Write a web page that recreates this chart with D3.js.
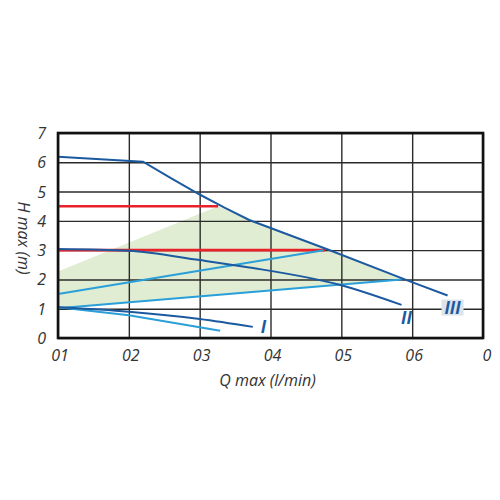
<!DOCTYPE html>
<html>
<head>
<meta charset="utf-8">
<script src="https://cdn.jsdelivr.net/npm/d3@7"></script>
<style>
  html, body { margin: 0; padding: 0; background: #fff; }
  text { font-family: 'Open Sans', sans-serif; font-style: italic; }
</style>
</head>
<body>
<div id="chart"></div>
<script>
// Pump curves: H max (m) against Q max (l/min)

const xTicks = [1, 2, 3, 4, 5, 6, 7];
const xTickLabels = ['01', '02', '03', '04', '05', '06', '0'];
const yTicks = [0, 1, 2, 3, 4, 5, 6, 7];

// speed curves (dark blue)
const curveI   = [[1, 1.05], [2, 0.9], [3, 0.65], [3.75, 0.38]];
const curveII  = [[1, 3.04], [2, 2.98], [3, 2.66], [3.7, 2.41], [5, 1.8], [5.85, 1.13]];
const curveIII = [[1, 6.19], [2.2, 6.02], [2.6, 5.45], [3, 4.9], [3.35, 4.45], [3.7, 4.03],
                  [4.8, 3.03], [5.95, 1.95], [6.5, 1.45]];

// system curves (light blue)
const lightA = [[1, 1.05], [2, 0.78], [3.29, 0.25]];
const lightB = [[1, 1.5], [4.75, 3.0]];
const lightC = [[1, 1.02], [5.85, 2.0]];

// red limit lines
const redLines = [[[1, 4.5], [3.26, 4.5]], [[1, 3.0], [4.77, 3.0]]];

// shaded working area
const area = [[1, 2.27], [3.26, 4.5], [3.7, 4.03], [4.8, 3.03], [5.9, 2.0], [1, 1.02]];

const labels = [
  { text: 'I', x: 3.9, y: 0.38 },
  { text: 'II', x: 5.92, y: 0.7 },
  { text: 'III', x: 6.57, y: 1.04, box: true }
];

const W = 500, H = 500;
const margin = { top: 133, right: 17, bottom: 162, left: 58 };
const w = W - margin.left - margin.right;
const h = H - margin.top - margin.bottom;

const svg = d3.select('#chart').append('svg')
  .attr('width', W).attr('height', H);

const g = svg.append('g')
  .attr('transform', `translate(${margin.left},${margin.top})`);

const x = d3.scaleLinear().domain([1, 7]).range([0, w]);
const y = d3.scaleLinear().domain([0, 7]).range([h, 0]);

const line = d3.line().x(d => x(d[0])).y(d => y(d[1]));
const smooth = d3.line().x(d => x(d[0])).y(d => y(d[1])).curve(d3.curveMonotoneX);

// green area
g.append('path')
  .attr('d', line(area) + 'Z')
  .attr('fill', '#e0edd2');

// grid
g.append('g')
  .call(d3.axisLeft(y).tickValues(yTicks).tickSize(-w).tickFormat(''))
  .call(a => a.select('.domain').remove())
  .call(a => a.selectAll('line').attr('stroke', '#2b2b2b').attr('stroke-width', 1.4));

g.append('g')
  .attr('transform', `translate(0,${h})`)
  .call(d3.axisBottom(x).tickValues(xTicks).tickSize(-h).tickFormat(''))
  .call(a => a.select('.domain').remove())
  .call(a => a.selectAll('line').attr('stroke', '#2b2b2b').attr('stroke-width', 1.4));

// red lines
redLines.forEach(r => {
  g.append('path').attr('d', line(r))
    .attr('fill', 'none').attr('stroke', '#e8212b').attr('stroke-width', 2.6);
});

// light blue lines
[lightA, lightB, lightC].forEach(c => {
  g.append('path').attr('d', line(c))
    .attr('fill', 'none').attr('stroke', '#2a9fd8').attr('stroke-width', 2);
});

// dark blue curves
g.append('path').attr('d', smooth(curveI))
  .attr('fill', 'none').attr('stroke', '#1c5aa0').attr('stroke-width', 2);
g.append('path').attr('d', smooth(curveII))
  .attr('fill', 'none').attr('stroke', '#1c5aa0').attr('stroke-width', 2);
g.append('path').attr('d', line(curveIII))
  .attr('fill', 'none').attr('stroke', '#1c5aa0').attr('stroke-width', 2);

// frame
g.append('rect')
  .attr('width', w).attr('height', h)
  .attr('fill', 'none').attr('stroke', '#111').attr('stroke-width', 2.6);

// curve labels
labels.forEach(l => {
  if (l.box) {
    g.append('rect')
      .attr('x', x(l.x) - 11).attr('y', y(l.y) - 8)
      .attr('width', 22).attr('height', 16)
      .attr('fill', '#dde3ea');
  }
  g.append('text')
    .attr('x', x(l.x)).attr('y', y(l.y) + 6)
    .attr('text-anchor', 'middle')
    .style('font-size', '17px').style('font-weight', '700')
    .style('fill', '#1c5aa0')
    .text(l.text);
});

// tick labels
g.selectAll('.ylab').data(yTicks).join('text')
  .attr('x', -12).attr('y', d => y(d) + 6)
  .attr('text-anchor', 'end')
  .style('font-size', '16px').style('fill', '#333')
  .text(d => d);

g.selectAll('.xlab').data(xTicks).join('text')
  .attr('x', (d, i) => x(d) + (i === xTicks.length - 1 ? 4 : 2))
  .attr('y', h + 23)
  .attr('text-anchor', 'middle')
  .style('font-size', '16px').style('fill', '#333')
  .text((d, i) => xTickLabels[i]);

// axis titles
g.append('text')
  .attr('x', w / 2 - 3).attr('y', h + 48)
  .attr('text-anchor', 'middle')
  .style('font-size', '16px').style('fill', '#333')
  .text('Q max (l/min)');

g.append('text')
  .attr('transform', 'rotate(90)')
  .attr('x', 105).attr('y', 40)
  .attr('text-anchor', 'middle')
  .style('font-size', '16px').style('fill', '#333')
  .text('H max (m)');
</script>
</body>
</html>
